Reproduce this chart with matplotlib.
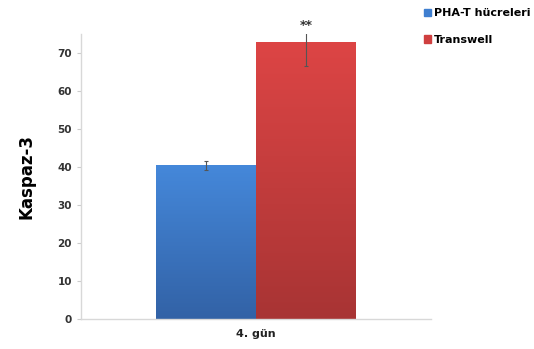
import matplotlib.pyplot as plt
import numpy as np
from matplotlib.colors import LinearSegmentedColormap

# data
groups = ['4. gün']
series = ['PHA-T hücreleri', 'Transwell']
values = [40.5, 72.9]
errors = [1.2, 6.3]
marks = ['', '**']

# gradient colours (top, bottom)
colors = [('#4588da', '#3262a6'), ('#dd4545', '#a83434')]
legend_colors = ['#3f7fd0', '#cf3f3f']

fig = plt.figure(figsize=(5.34, 3.49), dpi=100)
ax = fig.add_axes([0.1517, 0.086, 0.6554, 0.8166])

width = 0.2857
x0 = np.arange(len(groups))
for i, name in enumerate(series):
    x = x0 - width / 2 + i * width
    bars = ax.bar(x, values[i], width, color=legend_colors[i], edgecolor='none', label=name, zorder=2)
    # fake the gradient fill of the original
    cmap = LinearSegmentedColormap.from_list('g', [colors[i][1], colors[i][0]])
    for b in bars:
        grad = np.linspace(0, 1, 256).reshape(-1, 1)
        im = ax.imshow(grad, cmap=cmap, aspect='auto', origin='lower',
                       extent=[b.get_x(), b.get_x() + b.get_width(), 0, b.get_height()], zorder=2)
        im.set_clip_path(b)
    ax.errorbar(x, values[i], yerr=errors[i], fmt='none', ecolor='#555555', elinewidth=0.8,
                capsize=1.5, capthick=0.8, zorder=3)
    if marks[i]:
        ax.text(x[0], 77.3, marks[i], ha='center', va='center', fontsize=9, fontweight='bold',
                color='#333333', clip_on=False)

ax.set_xlim(-0.5, 0.5)
ax.set_ylim(0, 75)
ax.set_yticks(range(0, 71, 10))
ax.set_xticks(x0)
ax.set_xticklabels(groups, fontsize=8, fontweight='bold', color='#222222')
ax.tick_params(axis='x', length=0, pad=7)
ax.tick_params(axis='y', length=3, color='#cccccc', labelsize=7.5, labelcolor='#333333')
for t in ax.get_yticklabels():
    t.set_fontweight('bold')
ax.set_ylabel('Kaspaz-3', fontsize=12, fontweight='bold', labelpad=16)

for s in ['top', 'right']:
    ax.spines[s].set_visible(False)
for s in ['left', 'bottom']:
    ax.spines[s].set_color('#d8d8d8')
    ax.spines[s].set_linewidth(1.0)

# legend placed in the upper right corner
handles = [plt.Rectangle((0, 0), 1, 1, color=c) for c in legend_colors]
fig.legend(handles, series, loc='upper left', bbox_to_anchor=(0.775, 1.005), frameon=False,
           prop={'size': 8, 'weight': 'bold'}, handlelength=0.6, handleheight=0.6,
           handletextpad=0.3, labelspacing=1.5)

fig.savefig('out.png', dpi=100)
